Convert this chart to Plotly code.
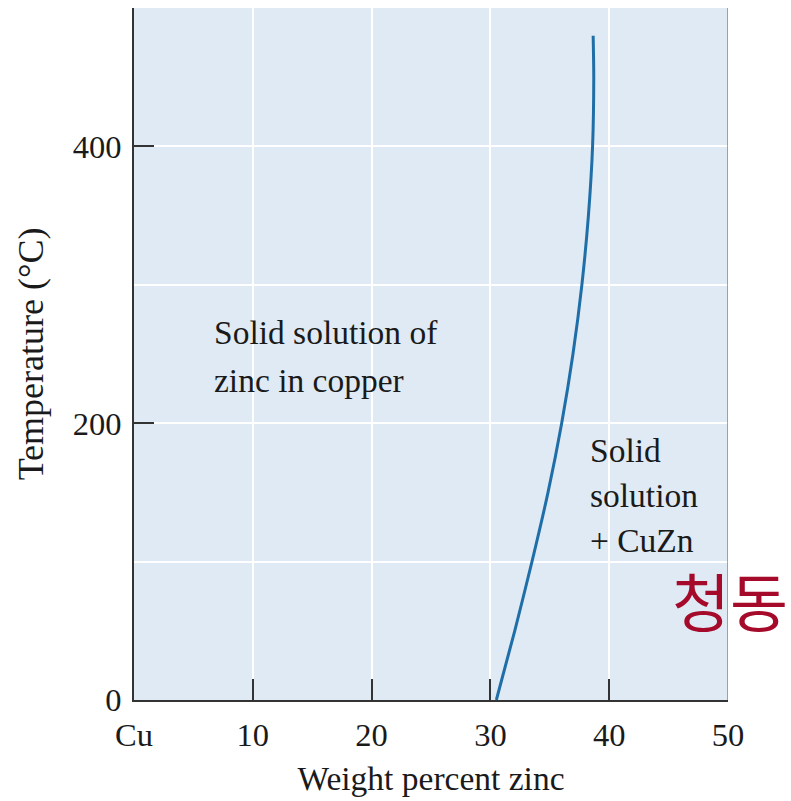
import plotly.graph_objects as go

# Data
temperature_c = [0, 50, 100, 150, 200, 250, 300, 350, 400, 450, 480]
weight_pct_zinc = [30.5, 32.05, 33.5, 34.85, 36.0, 36.95, 37.7, 38.25, 38.6, 38.7, 38.65]

x_tickvals = [0, 10, 20, 30, 40, 50]
x_ticktext = ["Cu", "10", "20", "30", "40", "50"]
y_tickvals = [0, 200, 400]

label_left_lines = ["Solid solution of", "zinc in copper"]
label_right_lines = ["Solid", "solution", "+ CuZn"]
label_korean = "청동"

SERIF = "Liberation Serif, Times New Roman, serif"
TXT = "#1a1a1a"
AX = "#333333"

fig = go.Figure()
fig.add_trace(go.Scatter(
    x=weight_pct_zinc, y=temperature_c, mode="lines",
    line=dict(color="#1f6ea8", width=3, shape="spline", smoothing=0.7),
    showlegend=False, hoverinfo="skip",
))

ann = []
for i, t in enumerate(label_left_lines):
    ann.append(dict(text=t, x=6.6, y=265.2 - i * 34.0, xref="x", yref="y",
                    xanchor="left", yanchor="middle", showarrow=False,
                    font=dict(size=33.5, family=SERIF, color=TXT)))
for i, t in enumerate(label_right_lines):
    ann.append(dict(text=t, x=38.2, y=180.6 - i * 32.8, xref="x", yref="y",
                    xanchor="left", yanchor="middle", showarrow=False,
                    font=dict(size=33.5, family=SERIF, color=TXT)))
ann.append(dict(text=label_korean, x=45.1, y=73.5, xref="x", yref="y",
                xanchor="left", yanchor="middle", showarrow=False,
                font=dict(size=63, family="Noto Sans CJK KR", color="#a50a2a")))

fig.update_layout(
    width=791, height=801,
    margin=dict(l=134, r=63, t=8, b=101),
    paper_bgcolor="white",
    plot_bgcolor="#dfeaf5",
    font=dict(family=SERIF, color=TXT, size=32),
    xaxis=dict(
        range=[0, 50], tickvals=x_tickvals, ticktext=x_ticktext,
        ticks="inside", ticklen=21, tickwidth=1.5, tickcolor=AX,
        showline=True, linecolor=AX, linewidth=2,
        showgrid=True, gridcolor="white", gridwidth=2,
        zeroline=False, ticklabelstandoff=5,
        tickfont=dict(size=32.5, family=SERIF, color=TXT),
        title=dict(text="Weight percent zinc", standoff=15,
                   font=dict(size=33.5, family=SERIF, color=TXT)),
    ),
    yaxis=dict(
        range=[0, 500], tickvals=y_tickvals,
        ticks="inside", ticklen=20, tickwidth=1.5, tickcolor=AX,
        showline=True, linecolor=AX, linewidth=2,
        showgrid=True, gridcolor="white", gridwidth=2,
        minor=dict(dtick=100, showgrid=True, gridcolor="white", gridwidth=2, ticks=""),
        zeroline=False, ticklabelstandoff=4,
        tickfont=dict(size=32.5, family=SERIF, color=TXT),
        title=dict(text="Temperature (°C)", standoff=18,
                   font=dict(size=36, family=SERIF, color=TXT)),
    ),
    shapes=[dict(type="line", xref="x", yref="paper", x0=50, x1=50, y0=0, y1=1,
                 line=dict(color="#888888", width=1.5))],
    annotations=ann,
)

fig.write_html("out.html")
